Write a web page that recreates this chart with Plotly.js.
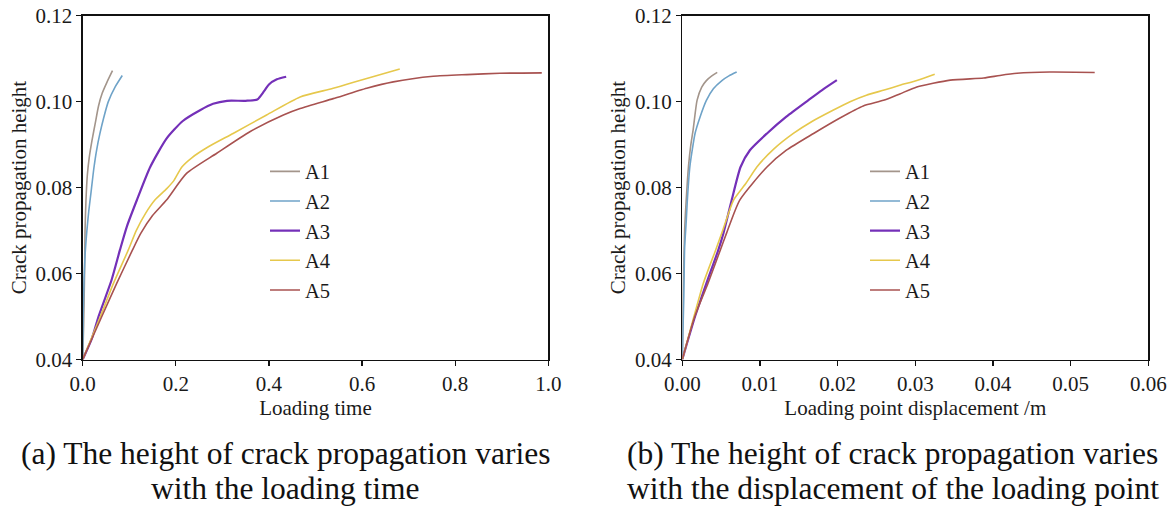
<!DOCTYPE html>
<html>
<head>
<meta charset="utf-8">
<script src="https://cdn.plot.ly/plotly-3.0.1.min.js"></script>
<style>
  html, body { margin: 0; padding: 0; background: #ffffff; }
  #chart { width: 1175px; height: 509px; }
</style>
</head>
<body>
<div id="chart"></div>
<script>
// ---------- series names & colours ----------
const seriesNames = ["A1", "A2", "A3", "A4", "A5"];
const seriesColors = ["#a3958b", "#6fa3c8", "#7430b8", "#e6c84c", "#a85250"];

// ---------- (a) crack height vs loading time ----------
const timeA1 = [0, 0.002, 0.004, 0.005, 0.007, 0.010, 0.014, 0.020, 0.027, 0.034, 0.042, 0.052, 0.064];
const heightTimeA1 = [0.040, 0.048, 0.060, 0.070, 0.077, 0.083, 0.087, 0.091, 0.095, 0.099, 0.102, 0.1045, 0.1072];

const timeA2 = [0, 0.001, 0.003, 0.0055, 0.009, 0.013, 0.018, 0.024, 0.030, 0.037, 0.045, 0.055, 0.070, 0.085];
const heightTimeA2 = [0.040, 0.050, 0.059, 0.065, 0.070, 0.0745, 0.079, 0.0845, 0.0888, 0.0926, 0.0962, 0.1000, 0.1035, 0.1061];

const timeA3 = [0, 0.020, 0.034, 0.062, 0.080, 0.095, 0.116, 0.145, 0.180, 0.215, 0.252, 0.280, 0.310, 0.350, 0.375, 0.390, 0.400, 0.417, 0.437];
const heightTimeA3 = [0.040, 0.045, 0.050, 0.0585, 0.0655, 0.071, 0.077, 0.0848, 0.0914, 0.0955, 0.098, 0.0995, 0.1002, 0.1002, 0.1005, 0.1025, 0.1040, 0.1052, 0.1058];

const timeA4 = [0, 0.038, 0.066, 0.098, 0.115, 0.135, 0.155, 0.180, 0.195, 0.213, 0.235, 0.270, 0.323, 0.395, 0.467, 0.538, 0.610, 0.681];
const heightTimeA4 = [0.040, 0.050, 0.0577, 0.0655, 0.070, 0.074, 0.0771, 0.0797, 0.0815, 0.0848, 0.0870, 0.0895, 0.0926, 0.0969, 0.1011, 0.1031, 0.1054, 0.1076];

const timeA5 = [0, 0.041, 0.073, 0.107, 0.125, 0.150, 0.180, 0.223, 0.288, 0.359, 0.431, 0.467, 0.538, 0.610, 0.667, 0.753, 0.825, 0.896, 0.986];
const heightTimeA5 = [0.040, 0.050, 0.0577, 0.0655, 0.0694, 0.0735, 0.0771, 0.0833, 0.0880, 0.0930, 0.0969, 0.0984, 0.1007, 0.1031, 0.1046, 0.1059, 0.1063, 0.1066, 0.1067];

// ---------- (b) crack height vs loading point displacement ----------
const dispA1 = [0, 0.0001, 0.0003, 0.0005, 0.0008, 0.0011, 0.0014, 0.0019, 0.0025, 0.0031, 0.0038, 0.0045];
const heightDispA1 = [0.040, 0.055, 0.070, 0.077, 0.085, 0.090, 0.0935, 0.1003, 0.1034, 0.1049, 0.1060, 0.1068];

const dispA2 = [0, 0.0002, 0.0003, 0.0005, 0.00065, 0.00097, 0.0013, 0.00164, 0.0023, 0.0031, 0.0040, 0.0051, 0.0060, 0.0070];
const heightDispA2 = [0.040, 0.055, 0.066, 0.072, 0.0771, 0.0848, 0.089, 0.0926, 0.0965, 0.1003, 0.1030, 0.1049, 0.1060, 0.1069];

const dispA3 = [0, 0.00164, 0.0031, 0.00464, 0.0053, 0.00636, 0.0075, 0.0087, 0.0109, 0.0134, 0.0162, 0.0180, 0.0199];
const heightDispA3 = [0.040, 0.050, 0.0577, 0.0655, 0.0694, 0.0771, 0.0848, 0.0887, 0.0926, 0.0965, 0.1003, 0.1027, 0.1050];

const dispA4 = [0, 0.0015, 0.0027, 0.0043, 0.0052, 0.0066, 0.0082, 0.0096, 0.0118, 0.0143, 0.0168, 0.0194, 0.0216, 0.0237, 0.0260, 0.0280, 0.0303, 0.0325];
const heightDispA4 = [0.040, 0.050, 0.0577, 0.0655, 0.070, 0.0771, 0.081, 0.0848, 0.089, 0.0926, 0.0955, 0.098, 0.100, 0.1015, 0.1027, 0.1038, 0.1050, 0.1064];

const dispA5 = [0, 0.0016, 0.0033, 0.0049, 0.0057, 0.0074, 0.0109, 0.0134, 0.0169, 0.0203, 0.0233, 0.0259, 0.0280, 0.0302, 0.0345, 0.0388, 0.0409, 0.0431, 0.0473, 0.0531];
const heightDispA5 = [0.040, 0.050, 0.0577, 0.0655, 0.0694, 0.0771, 0.0848, 0.0887, 0.0926, 0.0962, 0.0990, 0.1003, 0.1018, 0.1034, 0.1050, 0.1055, 0.1061, 0.1066, 0.1069, 0.1068];

// ---------- ticks & labels ----------
const yTicks = [0.04, 0.06, 0.08, 0.10, 0.12];
const xTicksTime = [0.0, 0.2, 0.4, 0.6, 0.8, 1.0];
const xTicksDisp = [0.00, 0.01, 0.02, 0.03, 0.04, 0.05, 0.06];
const yTitle = "Crack propagation height";
const xTitleTime = "Loading time";
const xTitleDisp = "Loading point displacement /m";
const captionA = ["(a) The height of crack propagation varies", "with the loading time"];
const captionB = ["(b) The height of crack propagation varies", "with the displacement of the loading point"];

// ---------- build ----------
const timeX = [timeA1, timeA2, timeA3, timeA4, timeA5];
const timeY = [heightTimeA1, heightTimeA2, heightTimeA3, heightTimeA4, heightTimeA5];
const dispX = [dispA1, dispA2, dispA3, dispA4, dispA5];
const dispY = [heightDispA1, heightDispA2, heightDispA3, heightDispA4, heightDispA5];

const FONT = "'Liberation Serif', 'Times New Roman', serif";
const W = 1175, H = 509;
const px = v => v / W;
const py = v => 1 - v / H;

const traces = [];
seriesNames.forEach((name, i) => {
  traces.push({
    x: timeX[i], y: timeY[i], name: name, type: "scatter", mode: "lines",
    xaxis: "x", yaxis: "y", legend: "legend",
    line: { color: seriesColors[i], width: i === 2 ? 2.2 : 1.6, shape: "spline", smoothing: 0.6 }
  });
});
seriesNames.forEach((name, i) => {
  traces.push({
    x: dispX[i], y: dispY[i], name: name, type: "scatter", mode: "lines",
    xaxis: "x2", yaxis: "y2", legend: "legend2",
    line: { color: seriesColors[i], width: i === 2 ? 2.2 : 1.6, shape: "spline", smoothing: 0.6 }
  });
});

const axisCommon = {
  showgrid: false, zeroline: false, showline: true, mirror: true,
  linecolor: "#111", linewidth: 1.3,
  ticks: "outside", ticklen: 5, tickwidth: 1.2, tickcolor: "#111",
  tickfont: { family: FONT, size: 21, color: "#1a1a1a" },
  fixedrange: true
};

const yDomain = [py(359.5), py(15.7)];

const layout = {
  width: W, height: H,
  margin: { l: 0, r: 0, t: 0, b: 0 },
  paper_bgcolor: "#ffffff", plot_bgcolor: "#ffffff",
  font: { family: FONT, color: "#1a1a1a" },
  showlegend: true,
  xaxis: Object.assign({}, axisCommon, {
    domain: [px(82.7), px(548.3)], range: [0, 1.0], anchor: "y",
    tickvals: xTicksTime, ticktext: xTicksTime.map(v => v.toFixed(1)),
    title: { text: xTitleTime, font: { family: FONT, size: 21, color: "#1a1a1a" }, standoff: 1 }
  }),
  yaxis: Object.assign({}, axisCommon, {
    domain: yDomain, range: [0.04, 0.12], anchor: "x",
    tickvals: yTicks, ticktext: yTicks.map(v => v.toFixed(2)),
    title: { text: yTitle, font: { family: FONT, size: 21, color: "#1a1a1a" }, standoff: 3 }
  }),
  xaxis2: Object.assign({}, axisCommon, {
    domain: [px(682.3), px(1148.3)], range: [0, 0.06], anchor: "y2",
    tickvals: xTicksDisp, ticktext: xTicksDisp.map(v => v.toFixed(2)),
    title: { text: xTitleDisp, font: { family: FONT, size: 21, color: "#1a1a1a" }, standoff: 1 }
  }),
  yaxis2: Object.assign({}, axisCommon, {
    domain: yDomain, range: [0.04, 0.12], anchor: "x2",
    tickvals: yTicks, ticktext: yTicks.map(v => v.toFixed(2)),
    title: { text: yTitle, font: { family: FONT, size: 21, color: "#1a1a1a" }, standoff: 3 }
  }),
  legend: {
    x: px(265), y: py(151.5), xanchor: "left", yanchor: "top",
    bgcolor: "rgba(0,0,0,0)", borderwidth: 0,
    font: { family: FONT, size: 20.5, color: "#1a1a1a" }, tracegroupgap: 0
  },
  legend2: {
    x: px(865), y: py(151.5), xanchor: "left", yanchor: "top",
    bgcolor: "rgba(0,0,0,0)", borderwidth: 0,
    font: { family: FONT, size: 20.5, color: "#1a1a1a" }, tracegroupgap: 0
  },
  annotations: [
    { text: captionA[0], x: px(285), y: py(453), xref: "paper", yref: "paper", xanchor: "center", yanchor: "middle", showarrow: false, font: { family: FONT, size: 31.5, color: "#111" } },
    { text: captionA[1], x: px(285), y: py(488), xref: "paper", yref: "paper", xanchor: "center", yanchor: "middle", showarrow: false, font: { family: FONT, size: 31.5, color: "#111" } },
    { text: captionB[0], x: px(892.5), y: py(453), xref: "paper", yref: "paper", xanchor: "center", yanchor: "middle", showarrow: false, font: { family: FONT, size: 31.5, color: "#111" } },
    { text: captionB[1], x: px(892.5), y: py(488), xref: "paper", yref: "paper", xanchor: "center", yanchor: "middle", showarrow: false, font: { family: FONT, size: 31.5, color: "#111" } }
  ]
};

Plotly.newPlot("chart", traces, layout, { staticPlot: true, displayModeBar: false });
</script>
</body>
</html>
